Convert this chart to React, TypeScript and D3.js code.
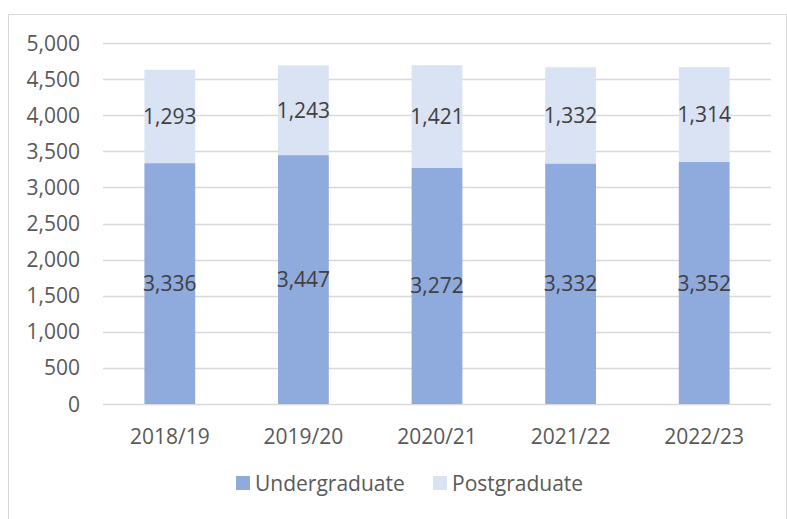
import * as d3 from "d3";
import { useEffect, useRef } from "react";

// chart values
const years = ["2018/19", "2019/20", "2020/21", "2021/22", "2022/23"];
const undergraduate = [3336, 3447, 3272, 3332, 3352];
const postgraduate = [1293, 1243, 1421, 1332, 1314];
const seriesNames = ["Undergraduate", "Postgraduate"];
const yTicks = [0, 500, 1000, 1500, 2000, 2500, 3000, 3500, 4000, 4500, 5000];

const colors = ["#8FAADC", "#DAE3F3"];

const App = () => {
  const ref = useRef<SVGSVGElement | null>(null);

  useEffect(() => {
    const svg = d3.select(ref.current);
    svg.selectAll("*").remove();

    const width = 787, height = 519;
    const margin = { top: 43, right: 16, bottom: 115, left: 103 };
    const font = "'Open Sans', sans-serif";
    const fs = 21;
    const fmt = d3.format(",");

    // outer chart border
    svg.append("rect")
      .attr("x", 8.5).attr("y", 14.5)
      .attr("width", width - 9).attr("height", height)
      .attr("fill", "#fff")
      .attr("stroke", "#D9D9D9");

    const x = d3.scaleBand().domain(years)
      .range([margin.left, width - margin.right])
      .paddingInner(0.62).paddingOuter(0.31);
    const y = d3.scaleLinear().domain([0, 5000])
      .range([height - margin.bottom, margin.top]);

    // gridlines
    svg.append("g").selectAll("line").data(yTicks).join("line")
      .attr("x1", margin.left).attr("x2", width - margin.right)
      .attr("y1", (d) => Math.round(y(d)) + 0.5).attr("y2", (d) => Math.round(y(d)) + 0.5)
      .attr("stroke", "#D9D9D9").attr("stroke-width", 1.3);

    // y labels
    svg.append("g").selectAll("text").data(yTicks).join("text")
      .attr("x", 80).attr("y", (d) => y(d))
      .attr("dy", "0.36em")
      .attr("text-anchor", "end")
      .style("font", `${fs}px ${font}`).attr("fill", "#595959")
      .text((d) => fmt(d));

    // x labels
    svg.append("g").selectAll("text").data(years).join("text")
      .attr("x", (d) => x(d)! + x.bandwidth() / 2)
      .attr("y", 436).attr("dy", "0.36em")
      .attr("text-anchor", "middle")
      .style("font", `${fs}px ${font}`).attr("fill", "#595959")
      .text((d) => d);

    const table = years.map((yr, i) => ({ year: yr, Undergraduate: undergraduate[i], Postgraduate: postgraduate[i] }));
    const stack = d3.stack<any>().keys(seriesNames)(table);

    stack.forEach((layer, li) => {
      const g = svg.append("g");
      g.selectAll("rect").data(layer).join("rect")
        .attr("x", (d) => x(d.data.year)!)
        .attr("width", x.bandwidth())
        .attr("y", (d) => y(d[1]))
        .attr("height", (d) => y(d[0]) - y(d[1]))
        .attr("fill", colors[li]);
      g.selectAll("text").data(layer).join("text")
        .attr("x", (d) => x(d.data.year)! + x.bandwidth() / 2)
        .attr("y", (d) => y((d[0] + d[1]) / 2))
        .attr("dy", "0.36em")
        .attr("text-anchor", "middle")
        .style("font", `${fs}px ${font}`).attr("fill", "#404040")
        .text((d) => fmt(d[1] - d[0]));
    });

    // legend
    const legendX = [236, 433];
    seriesNames.forEach((name, i) => {
      svg.append("rect")
        .attr("x", legendX[i]).attr("y", 476)
        .attr("width", 14).attr("height", 14)
        .attr("fill", colors[i]);
      svg.append("text")
        .attr("x", legendX[i] + 19).attr("y", 483).attr("dy", "0.36em")
        .style("font", `${fs}px ${font}`).attr("fill", "#595959")
        .text(name);
    });
  }, []);

  return (
    <svg ref={ref} width={787} height={519}
      style={{ position: "absolute", left: 0, top: 0, background: "#fff" }} />
  );
};

export default App;
